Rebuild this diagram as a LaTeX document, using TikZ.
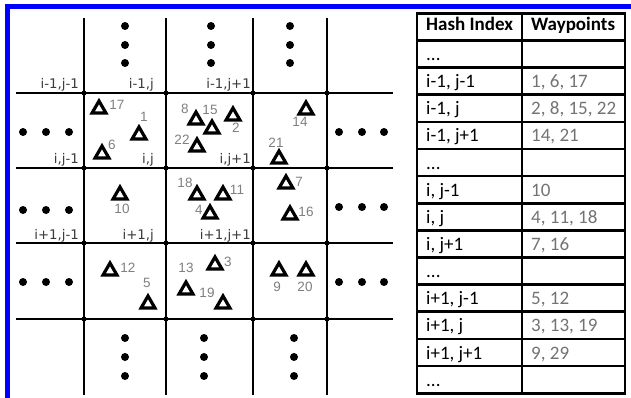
\documentclass[tikz,border=0pt]{standalone}
\usepackage{fontspec}
\setmainfont{Liberation Sans}
\newfontfamily\labfont{DejaVu Sans}
\newfontfamily\tabfont{Carlito}
\usetikzlibrary{shapes.geometric}
\definecolor{bluebar}{RGB}{0,0,255}
\definecolor{numgray}{RGB}{128,128,128}
\definecolor{labgray}{RGB}{60,60,60}
\definecolor{tabgray}{RGB}{115,115,115}
\begin{document}
\begin{tikzpicture}[x=1pt,y=-1pt,
  gridline/.style={line width=2.4pt,black},
  junction/.style={circle,fill=black,inner sep=0,minimum size=5pt},
  bigdot/.style={circle,fill=black,inner sep=0,minimum size=8pt},
  wp/.style={regular polygon,regular polygon sides=3,draw=black,line width=3.2pt,minimum size=16pt,inner sep=0},
  num/.style={text=numgray,font=\fontsize{13.5}{14}\selectfont,inner sep=0},
  cell/.style={text=labgray,font=\labfont\fontsize{13.3}{14}\selectfont,inner sep=0,anchor=base east},
  tabline/.style={line width=2.7pt,black},
  hdr/.style={font=\tabfont\bfseries\fontsize{19}{20}\selectfont,anchor=base west,inner sep=0},
  key/.style={font=\tabfont\fontsize{19}{20}\selectfont,anchor=base west,inner sep=0},
  val/.style={font=\tabfont\fontsize{19}{20}\selectfont,anchor=base west,inner sep=0,text=tabgray}
]
\useasboundingbox (0,0) rectangle (631,398);
\fill[white] (0,0) rectangle (631,398);
\fill[bluebar] (5,4) rectangle (631,9);
\fill[bluebar] (5,4) rectangle (10,398);

% grid
\foreach \x in {84,166,253,327} \draw[gridline] (\x,18) -- (\x,395);
\foreach \y in {93,168,243,319} \draw[gridline] (16,\y) -- (393,\y);
\foreach \x in {84,166,253,327} \foreach \y in {93,168,243,319}
  \node[junction] (j\x-\y) at (\x,\y) {};

% continuation dots
\foreach \x in {125,211,290} \foreach \y in {26,45,63} \node[bigdot] (dt\x-\y) at (\x,\y) {};
\foreach \x in {125,204,294} \foreach \y in {338,357,376} \node[bigdot] (db\x-\y) at (\x,\y) {};
\foreach \y in {132,210,282} \foreach \x in {23,46,69} \node[bigdot] (dl\x-\y) at (\x,\y) {};
\foreach \y in {132,207,282} \foreach \x in {339,362,384} \node[bigdot] (dr\x-\y) at (\x,\y) {};

% cell labels
\node[cell] (c11) at (79,89) {i-1,j-1};
\node[cell] (c12) at (154,89) {i-1,j};
\node[cell] (c13) at (251,89) {i-1,j+1};
\node[cell] (c21) at (79,164) {i,j-1};
\node[cell] (c22) at (154,164) {i,j};
\node[cell] (c23) at (251,164) {i,j+1};
\node[cell] (c31) at (79,239) {i+1,j-1};
\node[cell] (c32) at (154,239) {i+1,j};
\node[cell] (c33) at (251,239) {i+1,j+1};

% waypoints
\foreach \n/\x/\y in {17/99/109, 1/139/135, 6/102/154, 8/196/120, 15/212/129, 2/233/116,
  22/197/147, 14/306/110, 21/279/159, 10/120/195, 18/197/195, 11/223/195, 4/210/214,
  7/286/184, 16/290/215, 12/110/271, 5/148/304, 13/186/290, 3/215/265, 19/223/304,
  9/279/271, 20/306/271}
  \node[wp] (t\n) at (\x,\y) {};
\foreach \n/\x/\y in {17/117/105, 1/144/117, 6/112/145, 8/185/109, 15/210/110, 2/236/128,
  22/182/140, 14/300/122, 21/276/143, 10/122/209, 18/185/183, 11/237/190, 4/199/210,
  7/299/182, 16/306/212, 12/128/268, 5/147/283, 13/186/268, 3/228/262, 19/207/293,
  9/277/287, 20/305/287}
  \node[num] (n\n) at (\x,\y) {\n};

% table
\foreach \k in {1,...,13} \draw[tabline] (417,13.3+\k*27.14) -- (625,13.3+\k*27.14);
\draw[tabline] (522,13.3) -- (522,393.3);
\draw[tabline] (417,13.3) rectangle (625,393.3);
\node[hdr] (h1) at (426,31) {Hash Index};
\node[hdr] (h2) at (531,31) {Waypoints};
\foreach \k/\a/\b in {1/{...}/{}, 2/{i-1, j-1}/{1, 6, 17}, 3/{i-1, j}/{2, 8, 15, 22},
  4/{i-1, j+1}/{14, 21}, 5/{...}/{}, 6/{i, j-1}/{10}, 7/{i, j}/{4, 11, 18},
  8/{i, j+1}/{7, 16}, 9/{...}/{}, 10/{i+1, j-1}/{5, 12}, 11/{i+1, j}/{3, 13, 19},
  12/{i+1, j+1}/{9, 29}, 13/{...}/{}}
{
  \node[key] (k\k) at (426,13.3+\k*27.14+27.14-7) {\a};
  \node[val] (v\k) at (531,13.3+\k*27.14+27.14-7) {\b};
}
\end{tikzpicture}
\end{document}
